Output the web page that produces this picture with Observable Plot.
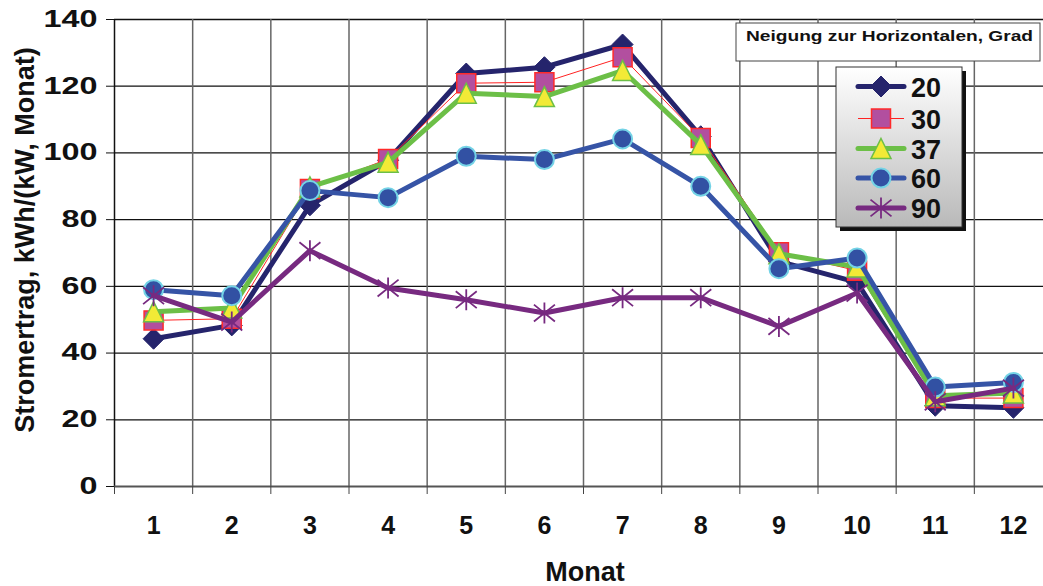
<!DOCTYPE html>
<html><head><meta charset="utf-8">
<script src="https://cdn.jsdelivr.net/npm/d3@7"></script>
<script src="https://cdn.jsdelivr.net/npm/@observablehq/plot@0.6"></script>
<style>
body{margin:0;background:#fff;}
#chart{position:relative;width:1043px;height:586px;overflow:hidden;font-family:"Liberation Sans",Arial,sans-serif;}
#chart svg{position:absolute;left:0;top:0;}
</style></head><body><div id="chart"></div>
<script>
// ---- data ----
const months = [1,2,3,4,5,6,7,8,9,10,11,12];
const seriesNames = ["20","30","37","60","90"];
const s20 = [44.3, 48.3, 84.3, 97.8, 123.8, 125.7, 132.5, 105, 67.5, 61.2, 24.2, 23.6];
const s30 = [49.8, 50.3, 89.2, 98.2, 120.9, 121.2, 128.7, 104.5, 70.2, 64.7, 26.5, 26.5];
const s37 = [52.4, 53.5, 89.8, 97.2, 117.9, 116.9, 124.7, 102.5, 69.8, 65.8, 27.2, 28];
const s60 = [59, 57.2, 88.7, 86.6, 99, 98, 104.2, 90, 65.3, 68.5, 29.8, 31.2];
const s90 = [57.2, 49.3, 70.7, 59.5, 56, 52, 56.6, 56.6, 48, 58, 25.4, 29.5];
const yTicks = [0,20,40,60,80,100,120,140];
const monthEdges = [0.5,1.5,2.5,3.5,4.5,5.5,6.5,7.5,8.5,9.5,10.5,11.5,12.5];
const xTitle = "Monat";
const yTitle = "Stromertrag, kWh/(kW, Monat)";
const legendTitle = "Neigung zur Horizontalen, Grad";

const valuesBySeries = {"20": s20, "30": s30, "37": s37, "60": s60, "90": s90};
const data = seriesNames.flatMap(s => months.map((m, i) => ({series: s, month: m, value: valuesBySeries[s][i]})));

// ---- symbols ----
const rr = s => Math.sqrt(s / Math.PI);
const symDiamond = {draw(c, s){const r = rr(s); c.moveTo(0,-r); c.lineTo(r,0); c.lineTo(0,r); c.lineTo(-r,0); c.closePath();}};
const symSquare = {draw(c, s){const r = rr(s); c.moveTo(-r,-r); c.lineTo(r,-r); c.lineTo(r,r); c.lineTo(-r,r); c.closePath();}};
const symTriangle = {draw(c, s){const r = rr(s); c.moveTo(0,-r); c.lineTo(r,r); c.lineTo(-r,r); c.closePath();}};
const symStar = {draw(c, s){const r = rr(s); c.moveTo(0,-r); c.lineTo(0,r); c.moveTo(-r,-r*0.8); c.lineTo(r,r*0.8); c.moveTo(-r,r*0.8); c.lineTo(r,-r*0.8);}};
const symCircle = {draw(c, s){const r = rr(s); c.moveTo(r,0); c.arc(0,0,r,0,2*Math.PI);}};

const styles = {
  "20": {line:"#25246c", lw:5, sym:symDiamond, r:10.5, fill:"#25246c", stroke:"#25246c", sw:1},
  "30": {line:"#ff2222", lw:1, sym:symSquare, r:9.5, fill:"#b24f9f", stroke:"#ff2a2a", sw:1.5},
  "37": {line:"#6cbf47", lw:5, sym:symTriangle, r:10, fill:"#f2ea36", stroke:"#6cbf47", sw:1.5},
  "60": {line:"#3654a6", lw:5, sym:symCircle, r:9.5, fill:"#3251a3", stroke:"#74d3e6", sw:2},
  "90": {line:"#772a80", lw:5, sym:symStar, r:10.5, fill:"none", stroke:"#772a80", sw:1.8}
};

const seriesMarks = seriesNames.flatMap(s => {
  const st = styles[s];
  const d = data.filter(e => e.series === s);
  return [
    Plot.line(d, {x:"month", y:"value", stroke: st.line, strokeWidth: st.lw, strokeLinejoin:"round"}),
    Plot.dot(d, {x:"month", y:"value", symbol: st.sym, r: st.r, fill: st.fill, stroke: st.stroke, strokeWidth: st.sw})
  ];
});

const chart = Plot.plot({
  width: 1043, height: 586,
  marginLeft: 114, marginRight: 0, marginTop: 19, marginBottom: 100,
  style: {fontFamily: '"Liberation Sans", Arial, sans-serif', background: "#fff"},
  x: {domain: [0.5, 12.5], range: [114, 1052], axis: null},
  y: {domain: [0, 140], range: [486, 19], axis: null},
  marks: [
    Plot.ruleY(yTicks.filter(d => d > 0), {stroke:"#111", strokeWidth:1.3}),
    Plot.ruleX(monthEdges.slice(1), {stroke:"#666", strokeWidth:1.5}),
    Plot.ruleX([0.5], {stroke:"#111", strokeWidth:1.5}),
    Plot.ruleY([0], {stroke:"#555", strokeWidth:2}),
    Plot.axisX(monthEdges, {tickSize: 8, stroke:"#444", tickFormat: () => "", label: null}),
    Plot.axisX(months, {tickSize: 0, tickPadding: 30, fontSize: 25, fontWeight: "bold", fill:"#111", label: null, tickFormat: d => String(d)}),
    Plot.axisY(yTicks, {tickSize: 8, tickPadding: 9, fontSize: 23, fontWeight: "bold", fill:"#111", stroke:"#111", label: null}),
    Plot.text([xTitle], {frameAnchor:"bottom", dx: 6, dy: 86, lineAnchor:"middle", fontSize: 27, fontWeight:"bold", fill:"#111"}),
    Plot.text([yTitle], {frameAnchor:"left", textAnchor:"middle", dx: -89, dy: -13, rotate: -90, lineAnchor:"middle", fontSize: 27, fontWeight:"bold", fill:"#111", ariaLabel:"ytitle"}),
    ...seriesMarks
  ]
});
document.getElementById("chart").appendChild(chart);

// stretch y tick labels and y title to match the reference proportions
chart.querySelectorAll('g[aria-label="y-axis tick label"] text').forEach(t => {
  const n = t.textContent.length;
  t.setAttribute("textLength", 18 * n);
  t.setAttribute("lengthAdjust", "spacingAndGlyphs");
});
chart.querySelectorAll('g[aria-label="ytitle"] text').forEach(t => {
  t.setAttribute("textLength", 450);
  t.setAttribute("lengthAdjust", "spacingAndGlyphs");
});

// ---- legend overlay ----
const ov = d3.select("#chart").append("svg").attr("width", 1043).attr("height", 586)
  .style("font-family", '"Liberation Sans", Arial, sans-serif');
const defs = ov.append("defs");
const grad = defs.append("linearGradient").attr("id","lg").attr("x1",0).attr("y1",0).attr("x2",0).attr("y2",1);
grad.append("stop").attr("offset","0%").attr("stop-color","#ffffff");
grad.append("stop").attr("offset","100%").attr("stop-color","#b9b9b9");

ov.append("rect").attr("x",736).attr("y",23).attr("width",304).attr("height",38)
  .attr("fill","#fff").attr("stroke","#444").attr("stroke-width",1);
ov.append("text").attr("x",746).attr("y",41).attr("font-size",15.5).attr("font-weight","bold")
  .attr("fill","#111").attr("textLength",287).attr("lengthAdjust","spacingAndGlyphs").text(legendTitle);

ov.append("rect").attr("x",840).attr("y",71).attr("width",126).attr("height",160).attr("fill","#111");
ov.append("rect").attr("x",836).attr("y",67).attr("width",126).attr("height",160)
  .attr("fill","url(#lg)").attr("stroke","#333").attr("stroke-width",1);
const rowY = [86.5, 118.5, 148.5, 178, 208];
seriesNames.forEach((s, i) => {
  const st = styles[s];
  const y = rowY[i];
  ov.append("line").attr("x1",858).attr("x2",904).attr("y1",y).attr("y2",y)
    .attr("stroke",st.line).attr("stroke-width",st.lw).attr("stroke-linecap", st.lw > 2 ? "round" : "butt");
  ov.append("path").attr("transform",`translate(881,${y})`)
    .attr("d", d3.symbol().type(st.sym).size(Math.PI * st.r * st.r)())
    .attr("fill", st.fill).attr("stroke", st.stroke).attr("stroke-width", st.sw);
  ov.append("text").attr("x",911).attr("y",y + 10).attr("font-size",27).attr("font-weight","bold")
    .attr("fill","#111").text(s);
});
</script></body></html>
